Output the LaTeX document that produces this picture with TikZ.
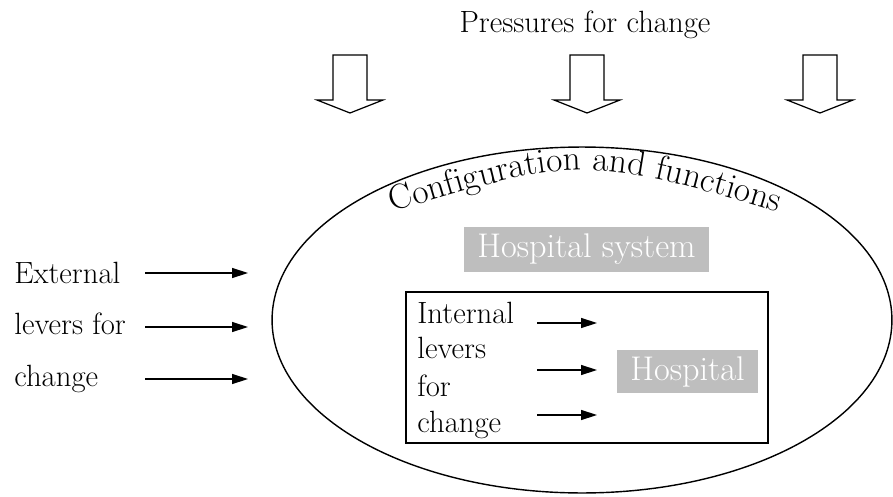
\documentclass[tikz,border=0pt]{standalone}
\usepackage{tikz}
\usetikzlibrary{shapes.geometric, decorations.text, arrows.meta}

\definecolor{boxgray}{RGB}{190,190,190}

\begin{document}
\begin{tikzpicture}[x=0.02cm, y=-0.02cm, every node/.style={anchor=center, inner sep=0pt},
  font=\fontsize{17.5}{21}\selectfont,
  graybox/.style={fill=boxgray, text=white, font=\fontsize{19.5}{23}\selectfont},
  lever/.style={-{Triangle[length=0.32cm, width=0.2cm]}, line width=0.8pt}]

\useasboundingbox (0,0) rectangle (893,497);

\node (pressures) [anchor=base] at (585,32) {Pressures for change};

% Pressure arrows
\foreach \x in {350,587,820}
  \draw[line width=0.7pt] (\x-17,55) -- (\x+17,55) -- (\x+17,100) -- (\x+33,100)
    -- (\x,113) -- (\x-33,100) -- (\x-17,100) -- cycle;

\node (sys) [ellipse, draw, line width=0.8pt, minimum width=12.4cm, minimum height=6.92cm] at (582,320) {};

\path[decorate, decoration={text along path, text align=center,
  text={|\fontsize{20}{24}\selectfont|Configuration and functions}}]
  (360,222) .. controls (583,153) .. (810,222);

\node (hsys) [graybox, minimum width=4.9cm, minimum height=0.9cm] at (586.5,249.5) {Hospital system};

\node (inner) [draw, line width=0.8pt, minimum width=7.24cm, minimum height=3.02cm] at (587,367.5) {};
\node (hosp) [graybox, minimum width=2.82cm, minimum height=0.86cm] at (687.5,371.5) {Hospital};

\foreach \t/\y [count=\i] in {External/283, levers for/334, change/386}
  \node (ext\i) [anchor=base west] at (14,\y) {\t};

\foreach \t/\y [count=\i] in {Internal/323, levers/358, for/396, change/432}
  \node (int\i) [anchor=base west] at (417,\y) {\t};

% Lever arrows
\foreach \y [count=\i] in {273,327,379} {
  \coordinate (ea\i) at (145,\y);
  \coordinate (eb\i) at (248,\y);
  \draw[lever] (ea\i) -- (eb\i);
}
\foreach \y [count=\i] in {323,370,415} {
  \coordinate (ia\i) at (537,\y);
  \coordinate (ib\i) at (597,\y);
  \draw[lever] (ia\i) -- (ib\i);
}

\end{tikzpicture}
\end{document}
